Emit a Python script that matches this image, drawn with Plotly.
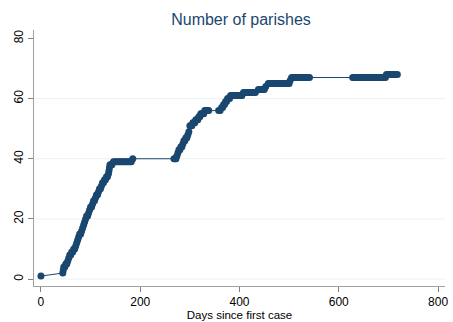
import plotly.graph_objects as go

days = [
    0,
    44, 45, 46, 48, 50, 52, 54, 56, 58, 60, 62, 64, 66, 68, 70, 72, 74, 76, 78, 80,
    82, 84, 86, 88, 90, 92, 94, 96, 98, 100, 102, 104, 106, 108, 110, 112, 114, 116,
    118, 120, 122, 124, 126, 128, 130, 132, 134, 136, 137, 138, 139, 141, 143,
    146, 149, 152, 155, 158, 161, 164, 167, 170, 173, 176, 179, 182, 185,
    268, 270, 272, 274, 276, 278, 280, 282, 284, 286, 288, 290, 292, 294, 296, 298,
    300, 302, 304, 306, 308, 310, 312, 314, 316, 318, 320, 322, 324, 326, 328, 330,
    332, 335, 338,
    358, 361, 364, 366, 368, 370, 372, 374, 376, 378, 380, 382, 385, 388, 391, 394,
    397, 400, 403, 405,
    408, 411, 414, 417, 420, 423, 426, 429, 432,
    438, 441, 444, 447, 450, 453,
    458, 461, 464, 467, 470, 473, 476, 479, 482, 485, 488, 491, 494, 497, 500, 502,
    505, 508, 511, 514, 517, 520, 523, 526, 529, 532, 535, 538, 541,
    628, 631, 634, 637, 640, 643, 646, 649, 652, 655, 658, 661, 664, 667, 670, 673,
    676, 679, 682, 685, 688, 691, 694,
    696, 699, 702, 705, 708, 711, 714, 718,
]
parishes = [
    1,
    2, 3, 4, 4, 5, 5, 6, 7, 8, 8, 9, 9, 10, 10, 11, 12, 13, 14, 15, 15,
    16, 17, 18, 19, 20, 21, 21, 22, 23, 24, 24, 25, 26, 26, 27, 28, 28, 29,
    30, 30, 31, 32, 32, 33, 33, 34, 34, 35, 36, 37, 38, 38, 38,
    39, 39, 39, 39, 39, 39, 39, 39, 39, 39, 39, 39, 39, 40,
    40, 40, 40, 41, 42, 43, 43, 44, 44, 45, 46, 46, 47, 47, 48, 49,
    51, 51, 51, 52, 52, 52, 53, 53, 53, 54, 54, 55, 55, 55, 55, 56,
    56, 56, 56,
    56, 56, 57, 57, 58, 58, 59, 59, 60, 60, 60, 61, 61, 61, 61, 61,
    61, 61, 61, 61,
    62, 62, 62, 62, 62, 62, 62, 62, 62,
    63, 63, 63, 63, 63, 64,
    65, 65, 65, 65, 65, 65, 65, 65, 65, 65, 65, 65, 65, 65, 65, 66,
    67, 67, 67, 67, 67, 67, 67, 67, 67, 67, 67, 67, 67,
    67, 67, 67, 67, 67, 67, 67, 67, 67, 67, 67, 67, 67, 67, 67, 67,
    67, 67, 67, 67, 67, 67, 67,
    68, 68, 68, 68, 68, 68, 68, 68,
]

x_ticks = [0, 200, 400, 600, 800]
y_ticks = [0, 20, 40, 60, 80]
y_grid = [0, 20, 40, 60]

navy = "#1a476f"
font = "Liberation Sans, Arial, sans-serif"

fig = go.Figure()
fig.add_trace(go.Scatter(
    x=days, y=parishes, mode="lines+markers",
    line=dict(color=navy, width=1),
    marker=dict(color=navy, size=7, line=dict(width=0)),
    showlegend=False, hoverinfo="x+y",
))

for g in y_grid:
    fig.add_hline(y=g, line=dict(color="#eaf2f3", width=1), layer="below")

fig.update_layout(
    width=453, height=322,
    margin=dict(l=34, r=5, t=30, b=35),
    paper_bgcolor="white", plot_bgcolor="white",
    title=dict(text="Number of parishes", x=0.532, xanchor="center",
               y=0.94, yanchor="middle",
               font=dict(family=font, size=16, color=navy)),
    font=dict(family=font, size=12, color="#000000"),
    xaxis=dict(
        range=[-14, 814], tickvals=x_ticks, showgrid=False, zeroline=False,
        showline=True, linecolor="#a0a0a0", linewidth=1,
        ticks="outside", ticklen=5, tickcolor="#808080",
        tickfont=dict(size=12, color="#000000"),
        title=dict(text="Days since first case", standoff=0,
                   font=dict(size=11.5, color="#000000")),
    ),
    yaxis=dict(
        range=[-2.3, 82.8], tickvals=y_ticks, showgrid=False, zeroline=False,
        showline=True, linecolor="#a0a0a0", linewidth=1,
        ticks="outside", ticklen=5, tickcolor="#808080", tickangle=-90,
        tickfont=dict(size=12, color="#000000"),
    ),
)

fig.write_html("out.html")
